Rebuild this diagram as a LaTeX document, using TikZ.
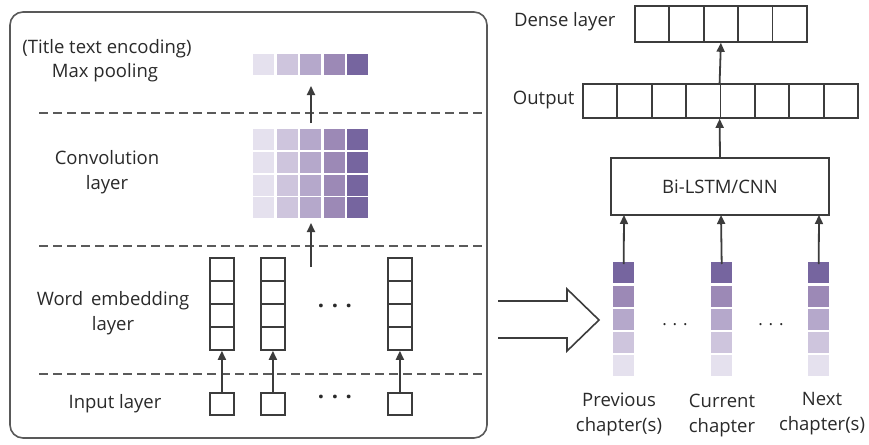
\documentclass[tikz,border=0pt]{standalone}
\usepackage{fontspec}
\setmainfont{Open Sans}
\usetikzlibrary{arrows.meta}
\definecolor{linec}{HTML}{3C3C3C}
\definecolor{dashc}{HTML}{5A5A5A}
\definecolor{textc}{HTML}{2A2A2A}
\definecolor{p1}{HTML}{E5E1EE}
\definecolor{p2}{HTML}{CEC5DD}
\definecolor{p3}{HTML}{B5A8CB}
\definecolor{p4}{HTML}{9C89B6}
\definecolor{p5}{HTML}{76659F}
\begin{document}
\begin{tikzpicture}[x=1pt,y=-1pt,
  ln/.style={draw=linec, line width=1.8pt},
  arr/.style={draw=linec, line width=1.8pt, -{Triangle[length=9pt,width=8pt]}},
  dsh/.style={draw=dashc, line width=1.4pt, dash pattern=on 9pt off 5pt},
  cellbox/.style={draw=linec, line width=1.8pt, inner sep=0pt, anchor=north west},
  pcell/.style={fill=#1, draw=none, minimum width=21pt, minimum height=21pt, inner sep=0pt, anchor=north west},
  lbl/.style={font=\fontsize{18.5}{25}\selectfont, text=textc, align=center},
  dots/.style={font=\fontsize{22}{24}\selectfont\bfseries, text=textc}]
\useasboundingbox (0,0) rectangle (869,444);
\fill[white] (0,0) rectangle (869,444);

% frame
\draw[draw=linec!85, line width=1.6pt, rounded corners=13pt] (10,12) rectangle (487,438);

% dashed separators
\draw[dsh] (39,113) -- (482,113);
\draw[dsh] (39,246) -- (482,246);
\draw[dsh] (39,374) -- (482,374);

% left labels
\node[lbl] (lt1) at (107,49) {(Title text encoding)};
\node[lbl] (lt2) at (105,73) {Max pooling};
\node[lbl] (lc) at (107,172) {Convolution\\layer};
\node[lbl] (lw) at (113,313) {Word\, embedding\\layer};
\node[lbl] (li) at (115,404) {Input layer};

% max pooling
\foreach \i/\c in {0/p1,1/p2,2/p3,3/p4,4/p5}{
  \node[pcell=\c] (mp\i) at ({253+23.5*\i},54) {};
}
% convolution grid
\foreach \j in {0,1,2,3}{
  \foreach \i/\c in {0/p1,1/p2,2/p3,3/p4,4/p5}{
    \node[pcell=\c] (cv\i-\j) at ({253+23.5*\i},{129+22.7*\j}) {};
  }
}
\coordinate (a1s) at (311,123);
\coordinate (a1e) at (311,86);
\draw[arr] (a1s) -- (a1e);
\coordinate (a2s) at (311,267);
\coordinate (a2e) at (311,223);
\draw[arr] (a2s) -- (a2e);

% word embedding columns and inputs
\foreach \k/\x in {1/209,2/260,3/387}{
  \foreach \j in {0,1,2,3}{
    \node[cellbox, minimum width=24pt, minimum height=23pt] (e\k-\j) at (\x,{257+23*\j}) {};
  }
  \node[cellbox, minimum width=24pt, minimum height=22pt] (in\k) at (\x,392) {};
  \draw[arr] (in\k.north) -- (e\k-3.south);
}
\node[dots] (d1) at (335,306) {. . .};
\node[dots] (d2) at (335,397) {. . .};

% right side: dense layer
\foreach \i in {0,...,4}{
  \node[cellbox, minimum width=34.4pt, minimum height=36pt] (ds\i) at ({634+34.4*\i},5) {};
}
\node[lbl, anchor=east] (ldense) at (619,22) {Dense layer};
% output
\foreach \i in {0,...,7}{
  \node[cellbox, minimum width=34.4pt, minimum height=34pt] (op\i) at ({582+34.4*\i},83) {};
}
\node[lbl, anchor=east] (lout) at (578,100) {Output};
\draw[arr] (op4.north west) -- (ds2.south);

% Bi-LSTM
\node[draw=linec, line width=1.8pt, minimum width=218pt, minimum height=57pt, inner sep=0pt, lbl] (bl) at (720,186.5) {Bi-LSTM/CNN};
\draw[arr] (bl.north) -- (op4.south west);

% chapter columns
\foreach \k/\x in {1/613,2/711,3/808}{
  \foreach \j/\c in {0/p5,1/p4,2/p3,3/p2,4/p1}{
    \node[pcell=\c] (ch\k-\j) at (\x,{262+23.3*\j}) {};
  }
}
\coordinate (b1) at (624,215);
\coordinate (b2) at (721,215);
\coordinate (b3) at (819,215);
\draw[arr] ([yshift=-2pt]ch1-0.north) -- (b1);
\draw[arr] ([yshift=-2pt]ch2-0.north) -- (b2);
\draw[arr] ([yshift=-2pt]ch3-0.north) -- (b3);
\node[font=\fontsize{17}{20}\selectfont, text=textc] (d3) at (675,325) {. . .};
\node[font=\fontsize{17}{20}\selectfont, text=textc] (d4) at (771,325) {. . .};

\node[lbl] (lp) at (619,414) {Previous\\chapter(s)};
\node[lbl] (lcur) at (722,416) {Current\\chapter};
\node[lbl] (lnx) at (822,414) {Next\\chapter(s)};

% hollow arrow
\draw[ln, line width=1.6pt, line join=miter] (498,301) -- (567,301) -- (567,289) -- (599,320) -- (567,351) -- (567,338) -- (498,338);
\end{tikzpicture}
\end{document}
